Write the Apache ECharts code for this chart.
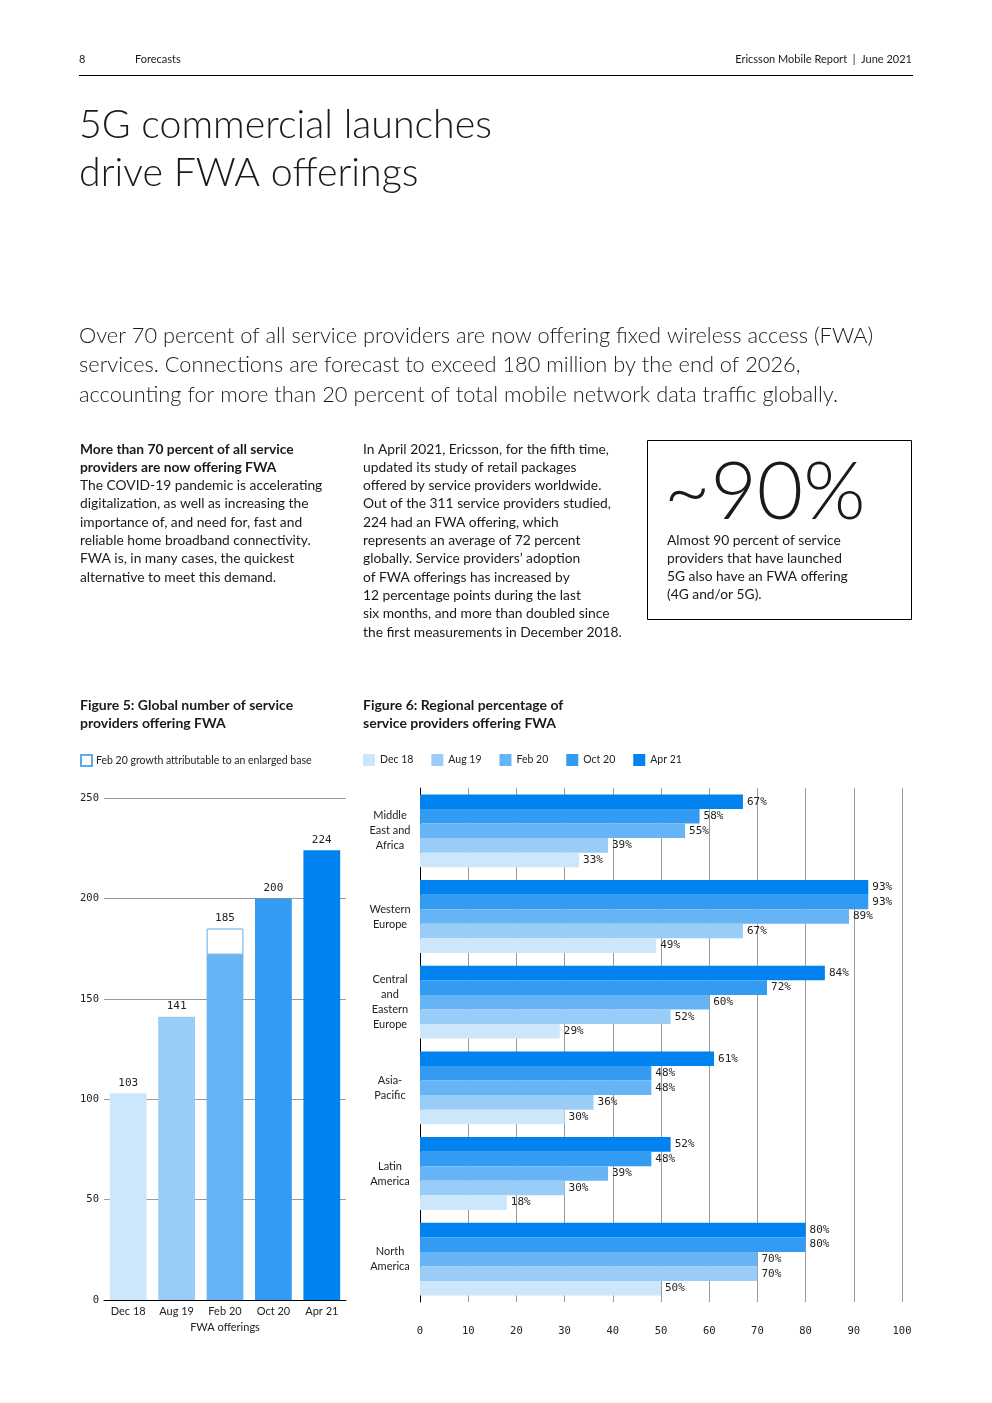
<!DOCTYPE html>
<html>
<head>
<meta charset="utf-8">
<script src="https://cdn.jsdelivr.net/npm/echarts@6/dist/echarts.min.js"></script>
<style>
html,body{margin:0;padding:0;background:#fff;}
#c{width:992px;height:1403px;}
</style>
</head>
<body>
<div id="c"></div>
<script>
// ---------- data ----------
const fig5Categories = ['Dec 18', 'Aug 19', 'Feb 20', 'Oct 20', 'Apr 21'];
const fig5Totals = [103, 141, 185, 200, 224];
const fig5Base = [103, 141, 172, 200, 224];
const fig5Growth = [null, null, 13, null, null];
const fig5Ticks = [0, 50, 100, 150, 200, 250];

const fig6Regions = ['Middle\nEast and\nAfrica', 'Western\nEurope', 'Central\nand\nEastern\nEurope', 'Asia-\nPacific', 'Latin\nAmerica', 'North\nAmerica'];
const fig6Periods = ['Dec 18', 'Aug 19', 'Feb 20', 'Oct 20', 'Apr 21'];
const dec18 = [33, 49, 29, 30, 18, 50];
const aug19 = [39, 67, 52, 36, 30, 70];
const feb20 = [55, 89, 60, 48, 39, 70];
const oct20 = [58, 93, 72, 48, 48, 80];
const apr21 = [67, 93, 84, 61, 52, 80];
const fig6Ticks = [0, 10, 20, 30, 40, 50, 60, 70, 80, 90, 100];

// ---------- styles ----------
const palette = ['#cce6fb', '#99cdf8', '#66b4f5', '#339bf2', '#0082f0'];
const SANS = 'Lato, "Noto Sans", sans-serif';
const MONO = '"DejaVu Sans Mono", monospace';
const TXT = '#1a1a1a';

const chart = echarts.init(document.getElementById('c'));

function txt(x, y, text, opt) {
  opt = opt || {};
  return {
    type: 'text', x: x, y: y, silent: true,
    style: {
      text: text,
      fontFamily: opt.family || SANS,
      fontSize: opt.size || 13.5,
      fontWeight: opt.weight || 'normal',
      lineHeight: opt.lh,
      fill: opt.color || TXT,
      align: opt.align || 'left',
      verticalAlign: opt.va || 'top'
    }
  };
}

const graphics = [
  txt(79, 54, '8', {size: 11}),
  txt(135, 54, 'Forecasts', {size: 11}),
  txt(912, 54, 'Ericsson Mobile Report  |  June 2021', {size: 11, align: 'right'}),
  {type: 'line', silent: true, shape: {x1: 79, y1: 75.5, x2: 913, y2: 75.5}, style: {stroke: '#000', lineWidth: 1}},
  txt(79, 101, '5G commercial launches\ndrive FWA offerings', {size: 39.3, weight: 300, lh: 48}),
  txt(79, 321, 'Over 70 percent of all service providers are now offering fixed wireless access (FWA)\nservices. Connections are forecast to exceed 180 million by the end of 2026,\naccounting for more than 20 percent of total mobile network data traffic globally.', {size: 21.8, weight: 300, lh: 29.5}),
  txt(80, 440, 'More than 70 percent of all service\nproviders are now offering FWA', {size: 13.8, weight: 'bold', lh: 18.3}),
  txt(80, 476.6, 'The COVID-19 pandemic is accelerating\ndigitalization, as well as increasing the\nimportance of, and need for, fast and\nreliable home broadband connectivity.\nFWA is, in many cases, the quickest\nalternative to meet this demand.', {size: 13.8, lh: 18.3}),
  txt(363, 440, 'In April 2021, Ericsson, for the fifth time,\nupdated its study of retail packages\noffered by service providers worldwide.\nOut of the 311 service providers studied,\n224 had an FWA offering, which\nrepresents an average of 72 percent\nglobally. Service providers\u2019 adoption\nof FWA offerings has increased by\n12 percentage points during the last\nsix months, and more than doubled since\nthe first measurements in December 2018.', {size: 13.8, lh: 18.3}),
  {type: 'rect', silent: true, shape: {x: 647.5, y: 440.5, width: 264, height: 179}, style: {fill: 'none', stroke: '#000', lineWidth: 1}},
  txt(664, 453, '~90%', {size: 80, weight: 300, lh: 80}),
  txt(667, 531, 'Almost 90 percent of service\nproviders that have launched\n5G also have an FWA offering\n(4G and/or 5G).', {size: 13.8, lh: 18.3}),
  txt(80, 696, 'Figure 5: Global number of service\nproviders offering FWA', {size: 14, weight: 'bold', lh: 18}),
  txt(363, 696, 'Figure 6: Regional percentage of\nservice providers offering FWA', {size: 14, weight: 'bold', lh: 18})
];

const fig6Data = [dec18, aug19, feb20, oct20, apr21];
const fig6Series = fig6Periods.map(function (name, i) {
  return {
    name: name, type: 'bar', xAxisIndex: 1, yAxisIndex: 1,
    data: fig6Data[i],
    itemStyle: {color: palette[i]},
    barGap: '0%', barCategoryGap: '15%',
    label: {show: true, position: 'right', distance: 4, formatter: '{c}%', fontFamily: MONO, fontSize: 11, color: '#222'}
  };
}).reverse();

const option = {
  backgroundColor: '#fff',
  animation: false,
  graphic: graphics,
  legend: [
    {
      data: ['Feb 20 growth attributable to an enlarged base'],
      left: 80, top: 754, padding: 0, icon: 'rect', itemWidth: 11, itemHeight: 11,
      textStyle: {fontFamily: SANS, fontSize: 10.5, color: '#222', padding: [0, 0, 0, -1]},
      selectedMode: false
    },
    {
      data: fig6Periods,
      left: 363, top: 754, padding: 0, icon: 'rect', itemWidth: 12, itemHeight: 12, itemGap: 18,
      textStyle: {fontFamily: SANS, fontSize: 10.5, color: '#222'},
      selectedMode: false
    }
  ],
  grid: [
    {left: 104, right: 646, top: 798, bottom: 103},
    {left: 420, right: 90, top: 788, bottom: 101}
  ],
  xAxis: [
    {
      gridIndex: 0, type: 'category', data: fig5Categories,
      axisLine: {lineStyle: {color: '#000', width: 1}}, axisTick: {show: false},
      axisLabel: {fontFamily: SANS, fontSize: 11, color: '#222', margin: 6},
      name: 'FWA offerings', nameLocation: 'middle', nameGap: 22,
      nameTextStyle: {fontFamily: SANS, fontSize: 11, color: '#222'}
    },
    {
      gridIndex: 1, type: 'value', min: 0, max: 100, interval: 10,
      axisLine: {show: false}, axisTick: {show: false},
      axisLabel: {fontFamily: MONO, fontSize: 10.5, color: '#222', margin: 24},
      splitLine: {lineStyle: {color: '#9a9a9a', width: 1}}
    }
  ],
  yAxis: [
    {
      gridIndex: 0, type: 'value', min: 0, max: 250, interval: 50,
      axisLine: {show: false}, axisTick: {show: false},
      axisLabel: {fontFamily: MONO, fontSize: 10.5, color: '#222', margin: 5},
      splitLine: {lineStyle: {color: '#9a9a9a', width: 1}}
    },
    {
      gridIndex: 1, type: 'category', data: fig6Regions, inverse: true,
      axisLine: {lineStyle: {color: '#000', width: 1}}, axisTick: {show: false},
      axisLabel: {fontFamily: SANS, fontSize: 11, color: '#222', align: 'center', margin: 30, lineHeight: 15, padding: [8, 0, 0, 0]}
    }
  ],
  series: [
    {
      name: 'FWA offerings', type: 'bar', stack: 'f5', xAxisIndex: 0, yAxisIndex: 0,
      barWidth: '76%',
      data: fig5Base.map(function (v, i) { return {value: v, itemStyle: {color: palette[i]}}; }),
      label: {
        show: true, position: 'top', distance: 5, fontFamily: MONO, fontSize: 11, color: '#222',
        formatter: function (p) { return fig5Growth[p.dataIndex] ? '' : fig5Totals[p.dataIndex]; }
      }
    },
    {
      name: 'Feb 20 growth attributable to an enlarged base', type: 'bar', stack: 'f5', xAxisIndex: 0, yAxisIndex: 0,
      barWidth: '76%',
      data: fig5Growth,
      itemStyle: {color: '#fff', borderColor: '#5eaaea', borderWidth: 1},
      label: {
        show: true, position: 'top', distance: 5, fontFamily: MONO, fontSize: 11, color: '#222',
        formatter: function (p) { return fig5Totals[p.dataIndex]; }
      }
    }
  ].concat(fig6Series)
};

chart.setOption(option);
</script>
</body>
</html>
